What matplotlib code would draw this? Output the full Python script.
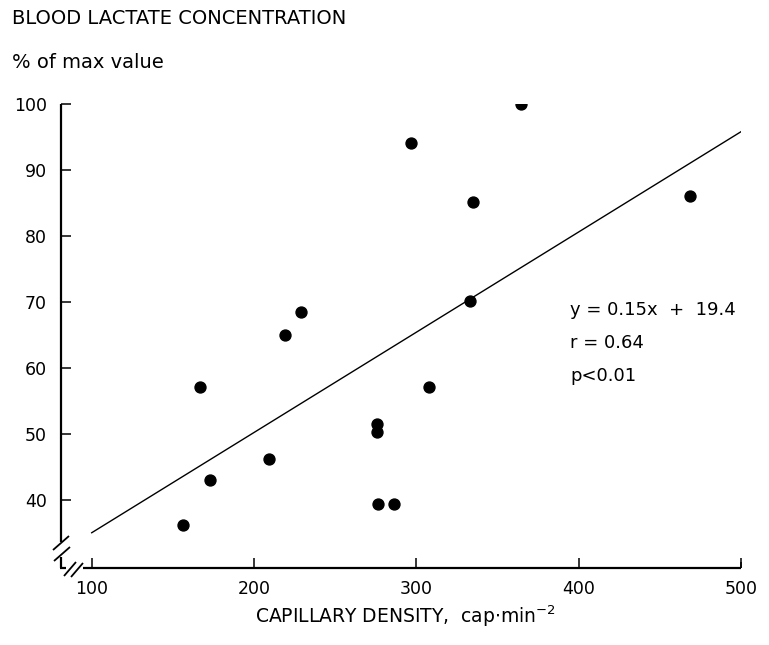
import numpy as np
import matplotlib
matplotlib.use('Agg')
from matplotlib import pyplot as plt

# capillary density (cap/mm^2) vs blood lactate (% of max value)
density = [156, 167, 173, 209, 219, 229, 275.5, 275.5, 276.5, 286, 297, 307.5, 333, 335, 364.5, 468.5]
lactate = [36.1, 57.1, 43.0, 46.2, 65.0, 68.4, 51.5, 50.3, 39.3, 39.3, 94.1, 57.1, 70.2, 85.1, 100.0, 86.0]

# regression line end points as drawn
fit_x = [100, 500]
fit_y = [35.0, 95.8]

xticks = [100, 200, 300, 400, 500]
yticks = [40, 50, 60, 70, 80, 90, 100]

title = 'BLOOD LACTATE CONCENTRATION'
ytitle = '% of max value'
xtitle = r'CAPILLARY DENSITY,  cap$\cdot$min$^{-2}$'
stats = ['y = 0.15x  +  19.4', 'r = 0.64', 'p<0.01']

plt.rcParams['font.family'] = ['DejaVu Sans']
plt.rcParams['mathtext.fontset'] = 'dejavusans'

W, H = 769, 645
fig = plt.figure(figsize=(W / 100, H / 100), dpi=100)

# axes box in pixels
x0, x1 = 60.7, 741.0
ytop, ybot = 104.0, 567.7
ax = fig.add_axes([x0 / W, 1 - ybot / H, (x1 - x0) / W, (ybot - ytop) / H])

ax.scatter(density, lactate, s=62, color='black', zorder=3)
ax.plot(fit_x, fit_y, color='black', lw=1.0)

ax.set_xlim(80.9, 500)
ax.set_ylim(29.7, 100)
ax.set_xticks(xticks)
ax.set_yticks(yticks)
for s in ax.spines.values():
    s.set_visible(False)
ax.tick_params(axis='both', direction='in', length=7.5, width=1.1, labelsize=12.5, colors='black')
ax.tick_params(axis='x', pad=9)
ax.tick_params(axis='y', pad=10)
ax.tick_params(top=False, right=False)

# axis lines with break marks, drawn in pixel-like axes coordinates
def ac(px, py):
    return (px - x0) / (x1 - x0), (ybot - py) / (ybot - ytop)

def seg(p, q, lw=1.6):
    a, b = ac(*p), ac(*q)
    ax.plot([a[0], b[0]], [a[1], b[1]], color='black', lw=lw,
            transform=ax.transAxes, clip_on=False, solid_capstyle='butt')

seg((x0, ytop), (x0, 542))
seg((x0, 557), (x0, ybot))
seg((x0 - 0.8, ybot), (66, ybot))
seg((83, ybot), (x1, ybot))
seg((x1, ybot), (x1, ybot - 6), lw=1.1)
# y break
seg((53, 550), (69, 536), lw=1.3)
seg((54, 561), (70, 547), lw=1.3)
# x break
seg((64, 576), (76, 562), lw=1.3)
seg((71, 577), (83, 563), lw=1.3)

fig.text(12 / W, 1 - 18 / H, title, fontsize=14, va='center', ha='left')
fig.text(12 / W, 1 - 62 / H, ytitle, fontsize=14, va='center', ha='left')
fig.text(405 / W, 1 - 616 / H, xtitle, fontsize=13.5, va='center', ha='center')

for i, t in enumerate(stats):
    fig.text(570 / W, 1 - (310 + 33 * i) / H, t, fontsize=13, va='center', ha='left')

fig.savefig('out.png', dpi=100)
